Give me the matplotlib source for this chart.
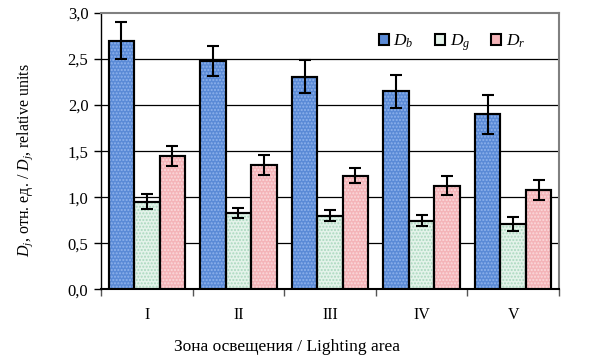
import matplotlib
matplotlib.use("Agg")
import matplotlib.pyplot as plt
import numpy as np
from matplotlib.ticker import FuncFormatter, FixedLocator

plt.rcParams['font.family'] = ['Liberation Serif', 'DejaVu Serif']
plt.rcParams['mathtext.fontset'] = 'custom'
plt.rcParams['mathtext.rm'] = 'Liberation Serif'
plt.rcParams['mathtext.it'] = 'Liberation Serif:italic'
plt.rcParams['hatch.linewidth'] = 1.0

categories = ['I', 'II', 'III', 'IV', 'V']
Db = [2.70, 2.48, 2.31, 2.15, 1.90]
Db_err = [0.20, 0.16, 0.175, 0.18, 0.215]
Dg = [0.95, 0.83, 0.80, 0.745, 0.71]
Dg_err = [0.08, 0.055, 0.06, 0.06, 0.08]
Dr = [1.45, 1.35, 1.235, 1.125, 1.08]
Dr_err = [0.11, 0.105, 0.08, 0.10, 0.11]
series_labels = ['$D_b$', '$D_g$', '$D_r$']

face = ['#5A8AD6', '#E4F3EA', '#F4B4B8']
dots = ['#8FB3EC', '#A9D8BE', '#FBDADC']

fig = plt.figure(figsize=(5.93, 3.6), dpi=100)
ax = fig.add_axes([0.1703, 0.1964, 0.7724, 0.7675])

x = np.arange(len(categories))
w = 0.278
for i, (vals, errs) in enumerate([(Db, Db_err), (Dg, Dg_err), (Dr, Dr_err)]):
    pos = x + (i - 1) * w
    ax.bar(pos, vals, w, color=face[i], edgecolor='black', linewidth=1.5,
           label=series_labels[i], zorder=3)
    ax.bar(pos, vals, w, facecolor='none', edgecolor=dots[i], linewidth=0,
           hatch='.....', zorder=3.1)
    ax.bar(pos, vals, w, facecolor='none', edgecolor='black', linewidth=1.5,
           zorder=3.2)
    ax.errorbar(pos, vals, yerr=errs, fmt='none', ecolor='black',
                elinewidth=1.5, capsize=4, capthick=1.5, zorder=4)

ax.set_xlim(-0.5, 4.5)
ax.set_ylim(0, 3.0)
ax.set_yticks(np.arange(0, 3.01, 0.5))
ax.yaxis.set_major_formatter(FuncFormatter(lambda v, p: f"{v:.1f}".replace('.', ',')))
ax.set_xticks(x)
ax.set_xticklabels(categories)
ax.xaxis.set_minor_locator(FixedLocator(np.arange(-0.5, 4.6, 1.0)))
ax.tick_params(axis='x', which='major', length=0, pad=13, labelsize=11.5)
ax.tick_params(axis='x', which='minor', length=5, width=1, color='#555555', direction='out')
ax.tick_params(axis='y', length=5, width=1, direction='out', labelsize=12, pad=4)

for yv in np.arange(0.5, 2.51, 0.5):
    ax.axhline(yv, color='black', linewidth=0.9, zorder=1)

ax.spines['left'].set_color('black')
ax.spines['left'].set_linewidth(1.0)
ax.spines['bottom'].set_color('black')
ax.spines['bottom'].set_linewidth(1.5)
ax.spines['top'].set_color('#808080')
ax.spines['top'].set_linewidth(1.5)
ax.spines['right'].set_color('#808080')
ax.spines['right'].set_linewidth(1.5)

ax.set_ylabel('$D_j$, отн. ед. / $D_j$, relative units', fontsize=11.5)
ax.yaxis.label.set_verticalalignment('center')
ax.yaxis.set_label_coords(-0.166, 0.468)
ax.set_xlabel('Зона освещения / Lighting area', fontsize=12.5)
ax.xaxis.label.set_verticalalignment('center')
ax.xaxis.set_label_coords(0.406, -0.209)

handles, labels = ax.get_legend_handles_labels()
leg = ax.legend(handles, labels, loc='upper right', bbox_to_anchor=(0.96, 0.985),
                ncol=3, frameon=False, fontsize=12.5, handlelength=0.6,
                handleheight=0.6, handletextpad=0.25, columnspacing=1.2)

fig.savefig('out.png', dpi=100)
